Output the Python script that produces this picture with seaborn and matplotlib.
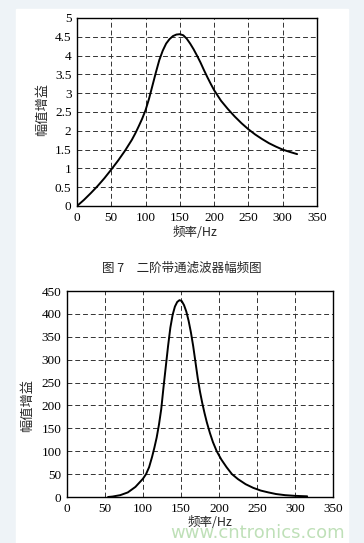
import matplotlib
matplotlib.use("Agg")
import matplotlib.pyplot as plt
import seaborn as sns
import pandas as pd
from matplotlib.patches import Rectangle

# data
freq_top = [0, 10, 20, 30, 40, 50, 60, 70, 80, 85, 90, 95, 100, 105, 110, 115,
            120, 125, 130, 135, 140, 145, 150, 155, 160, 165, 170, 175, 180, 185,
            190, 195, 200, 210, 220, 230, 240, 250, 260, 270, 280, 290, 300, 310, 321]
gain_top = [0, 0.16, 0.34, 0.53, 0.74, 0.97, 1.21, 1.47, 1.76, 1.93, 2.12, 2.32,
            2.55, 2.85, 3.2, 3.55, 3.88, 4.13, 4.32, 4.44, 4.52, 4.56, 4.57, 4.54,
            4.45, 4.32, 4.17, 4.0, 3.82, 3.62, 3.43, 3.25, 3.08, 2.8, 2.58, 2.38,
            2.2, 2.04, 1.9, 1.78, 1.67, 1.58, 1.5, 1.44, 1.38]

freq_bot = [54, 60, 70, 80, 90, 100, 104, 108, 112, 115, 118, 121, 124, 127, 130,
            133, 136, 139, 142, 145, 148, 151, 154, 157, 160, 163, 166, 169, 172,
            175, 178, 181, 184, 188, 192, 197, 203, 210, 217, 225, 235, 245, 255,
            265, 275, 287, 300, 316]
gain_bot = [0, 1, 4, 10, 22, 40, 50, 65, 88, 108, 130, 158, 192, 240, 285, 330,
            370, 398, 416, 426, 430, 428, 419, 405, 385, 360, 330, 295, 260, 230,
            205, 183, 163, 140, 120, 100, 82, 65, 50, 39, 28, 20, 14, 10, 6.5, 4,
            2.5, 1.5]

xticks = [0, 50, 100, 150, 200, 250, 300, 350]
yticks_top = [0, 0.5, 1, 1.5, 2, 2.5, 3, 3.5, 4, 4.5, 5]
ytick_labels_top = ["0", "0.5", "1", "1.5", "2", "2.5", "3", "3.5", "4", "4.5", "5"]
yticks_bot = [0, 50, 100, 150, 200, 250, 300, 350, 400, 450]

ylabel = "幅值增益"
xlabel = "频率/Hz"
caption = "图 7　二阶带通滤波器幅频图"

sns.set_style("white")
plt.rcParams["font.family"] = ["Liberation Serif", "Noto Sans CJK SC"]
cjk = ["Noto Sans CJK SC", "Liberation Serif"]

fig = plt.figure(figsize=(3.64, 5.43), dpi=100, facecolor="#eef3f7")
# white page area behind everything
fig.patches.append(Rectangle((16 / 364, 0), (348 - 16) / 364, 1 - 9 / 543,
                             transform=fig.transFigure, color="white", zorder=-10))

ax1 = fig.add_axes([77 / 364, 1 - 206 / 543, 240 / 364, 188 / 543])
ax2 = fig.add_axes([67 / 364, 1 - 497 / 543, 266 / 364, 206 / 543])

df_top = pd.DataFrame({"f": freq_top, "g": gain_top})
df_bot = pd.DataFrame({"f": freq_bot, "g": gain_bot})
sns.lineplot(data=df_top, x="f", y="g", ax=ax1, color="black", lw=1.4)
sns.lineplot(data=df_bot, x="f", y="g", ax=ax2, color="black", lw=1.4)

for ax, yt in ((ax1, yticks_top), (ax2, yticks_bot)):
    ax.set_xlim(0, 350)
    ax.set_ylim(yt[0], yt[-1])
    ax.set_xticks(xticks)
    ax.set_yticks(yt)
    ax.set_xlabel("")
    ax.set_ylabel("")
    ax.grid(True, ls=(0, (5, 3)), color="#333333", lw=0.7)
    ax.tick_params(direction="in", length=3, labelsize=9.5, pad=4, colors="black")
    for s in ax.spines.values():
        s.set_color("black")
        s.set_linewidth(1.0)

ax1.set_yticklabels(ytick_labels_top)

fig.text(43 / 364, 1 - 110 / 543, ylabel, rotation=90, ha="center", va="center",
         fontsize=9.5, family=cjk)
fig.text(28 / 364, 1 - 405 / 543, ylabel, rotation=90, ha="center", va="center",
         fontsize=9.5, family=cjk)
fig.text(195 / 364, 1 - 232 / 543, xlabel, ha="center", va="center",
         fontsize=9, family=cjk)
fig.text(210 / 364, 1 - 522 / 543, xlabel, ha="center", va="center",
         fontsize=9, family=cjk)
fig.text(182 / 364, 1 - 268 / 543, caption, ha="center", va="center",
         fontsize=9, family=cjk)
fig.text(258 / 364, 1 - 533 / 543, "www.cntronics.com", ha="center", va="center",
         fontsize=13, family="DejaVu Sans", color="#bfe0b8", zorder=-5)

fig.savefig("out.png", dpi=100, facecolor=fig.get_facecolor())
